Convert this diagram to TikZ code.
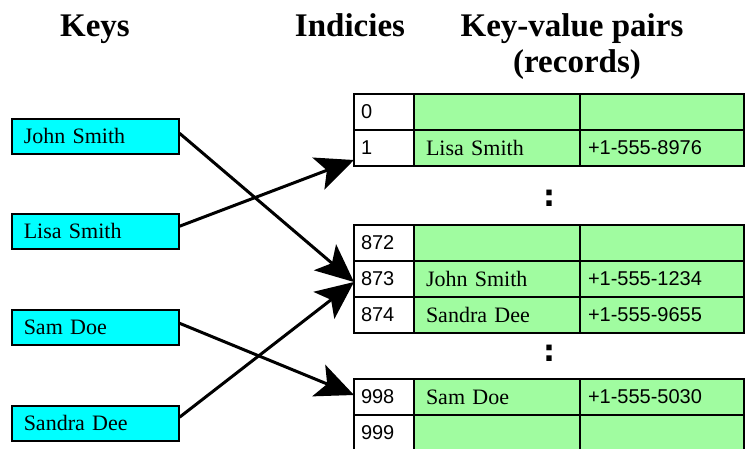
\documentclass[tikz,border=0pt]{standalone}
\usepackage{fontspec}
\setmainfont{Liberation Serif}
\newfontfamily\numfont{Liberation Sans}
\newfontfamily\dotfont{DejaVu Sans}
\usetikzlibrary{arrows.meta}

\definecolor{keycyan}{RGB}{0,255,255}
\definecolor{recgreen}{RGB}{160,252,160}

\begin{document}
\begin{tikzpicture}[x=1pt,y=-1pt,
  header/.style={font=\fontsize{33}{38}\selectfont\bfseries,anchor=base},
  keybox/.style={draw,line width=1.5pt,fill=keycyan,anchor=north west,
                 minimum height=35pt,inner xsep=12pt,text width=143pt,align=left,
                 font=\fontsize{22}{24}\selectfont},
  cell/.style={draw,line width=1.5pt,anchor=north west,minimum height=36pt,
               align=left,outer sep=0pt},
  idxcell/.style={cell,fill=white,inner xsep=7pt,text width=46pt,
                  font=\numfont\fontsize{20}{22}\selectfont},
  namecell/.style={cell,fill=recgreen,inner xsep=12pt,text width=142pt,
                   font=\fontsize{22}{24}\selectfont},
  phonecell/.style={cell,fill=recgreen,inner xsep=8pt,text width=148pt,
                    font=\numfont\fontsize{20}{22}\selectfont},
  gap/.style={font=\dotfont\fontsize{30}{32}\selectfont\bfseries},
  link/.style={line width=3pt,-{Stealth[length=38pt,width=34pt,inset=9pt]}},
]
\useasboundingbox (0,0) rectangle (745,448);

% Headings
\node[header] (hkeys) at (95,36) {Keys};
\node[header] (hidx) at (350,36) {Indicies};
\node[header] (hrec) at (572,36) {Key-value pairs};
\node[header] (hrec2) at (577,72) {(records)};

% Keys
\node[keybox] (john) at (11,118) {John Smith};
\node[keybox] (lisa) at (11,213) {Lisa Smith};
\node[keybox] (sam) at (11,309) {Sam Doe};
\node[keybox] (sandra) at (11,405) {Sandra Dee};

% Buckets: index, name, phone
\foreach \idx/\top/\who/\phone in {0/94/{}/{},1/130/Lisa Smith/+1-555-8976,
    872/225/{}/{},873/261/John Smith/+1-555-1234,874/297/Sandra Dee/+1-555-9655,
    998/379/Sam Doe/+1-555-5030,999/415/{}/{}}{
  \node[idxcell] (i\idx) at (354,\top) {\idx};
  \node[namecell] (n\idx) at (414,\top) {\who};
  \node[phonecell] (p\idx) at (580,\top) {\phone};
}

% Skipped rows
\node[gap] (dots1) at (549,198) {:};
\node[gap] (dots2) at (549,353) {:};

% Hashing
\draw[link] ([yshift=3pt]john.east) -- ([yshift=-3pt]i873.west);
\draw[link] ([yshift=5pt]lisa.east) -- ([yshift=-12pt]i1.west);
\draw[link] ([yshift=4pt]sam.east) -- ([yshift=2pt]i998.west);
\draw[link] ([yshift=6pt]sandra.east) -- ([yshift=-3pt]i873.west);

\end{tikzpicture}
\end{document}
